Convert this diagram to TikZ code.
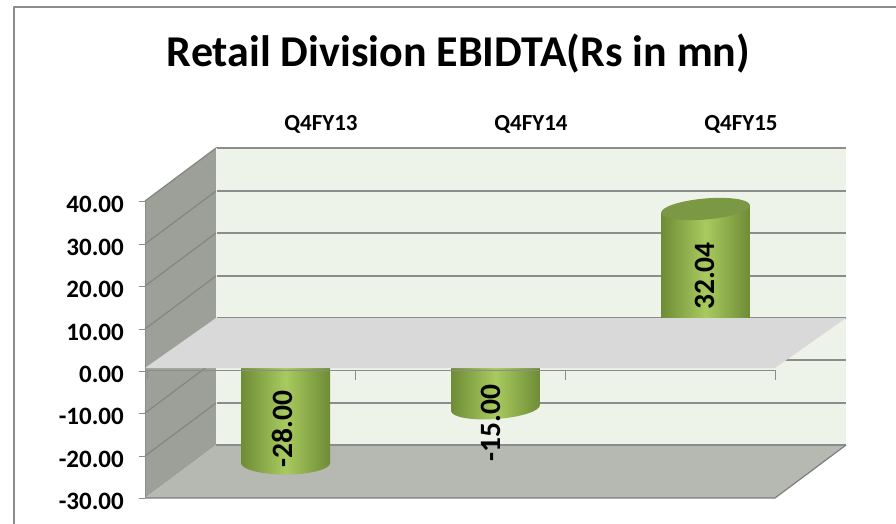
\documentclass[tikz,border=0pt]{standalone}
\usepackage{fontspec}
\setmainfont{Carlito}
\usepackage{tikz}

\definecolor{framegray}{HTML}{8C8C8C}
\definecolor{gridgray}{HTML}{8C8C8C}
\definecolor{wallgreen}{HTML}{EEF3E9}
\definecolor{sidegray}{HTML}{9D9F99}
\definecolor{sideline}{HTML}{84867F}
\definecolor{floorgray}{HTML}{B6B8B2}
\definecolor{slabgray}{HTML}{D9D9D9}
\definecolor{cylDark}{HTML}{6E8C36}
\definecolor{cylLight}{HTML}{A9CA5F}
\definecolor{cylTop}{HTML}{7B9944}

\begin{document}
\begin{tikzpicture}[x=1pt, y=-1pt, line join=bevel]
	\useasboundingbox (0,0) rectangle (896,524);

	\tikzstyle{gridline} = [draw=gridgray, line width=1.4pt];
	\tikzstyle{sidegrid} = [draw=sideline, line width=1.2pt];
	\tikzstyle{tick} = [draw=gridgray, line width=1pt];
	\tikzstyle{cylbody} = [left color=cylDark, right color=cylDark, middle color=cylLight];
	\tikzstyle{axislabel} = [anchor=base east, inner sep=0pt, font=\fontsize{25}{28}\selectfont\bfseries];
	\tikzstyle{catlabel} = [anchor=base, inner sep=0pt, font=\fontsize{23}{26}\selectfont\bfseries];
	\tikzstyle{barlabel} = [rotate=90, inner sep=0pt, font=\fontsize{29.5}{32}\selectfont\bfseries];

	% outer frame
	\draw[draw=framegray, line width=2pt] (14,524) -- (14,7) -- (896,7);

	% back wall and its grid
	\fill[wallgreen] (216,148) rectangle (846,445);
	\draw[gridline] (216,148) -- (846,148);
	\draw[gridline] (216,191) -- (846,191);
	\draw[gridline] (216,233) -- (846,233);
	\draw[gridline] (216,276) -- (846,276);
	\draw[gridline] (216,318) -- (846,318);
	\draw[gridline] (216,360) -- (846,360);
	\draw[gridline] (216,403) -- (846,403);

	% side wall
	\fill[sidegray] (145,201) -- (216,148) -- (216,445) -- (145,498) -- cycle;
	\draw[sidegrid] (145,201) -- (216,148);
	\draw[sidegrid] (145,244) -- (216,191);
	\draw[sidegrid] (145,286) -- (216,233);
	\draw[sidegrid] (145,329) -- (216,276);
	\draw[sidegrid] (145,413) -- (216,360);
	\draw[sidegrid] (145,456) -- (216,403);
	\draw[draw=white!85!sidegray, line width=1pt] (216,148) -- (216,445);

	% floor at -30
	\fill[floorgray] (145,498) -- (775,498) -- (846,445) -- (216,445) -- cycle;
	\draw[draw=gridgray, line width=1.2pt] (216,445) -- (846,445);
	\draw[draw=gridgray!90!black, line width=1.2pt] (145,498) -- (775,498) -- (846,445);

	% cylinders below zero
	\shade[cylbody] (241,340) -- (241,463) -- (330,463) -- (330,340) -- cycle;
	\shade[cylbody] (285.5,463) ellipse [x radius=44.5, y radius=11.5];
	\shade[cylbody] (451.1,340) -- (451.1,411.1) -- (539.9,404.9) -- (539.9,340) -- cycle;
	\shade[cylbody, rotate around={4:(495.5,408)}] (495.5,408) ellipse [x radius=44.5, y radius=11];

	% cylinder above zero
	\shade[cylbody] (661.2,212.9) -- (749.8,205.1) -- (749.8,345) -- (661.2,345) -- cycle;
	\fill[cylTop, rotate around={5:(705.5,209)}] (705.5,209) ellipse [x radius=44.5, y radius=10.5];

	% zero plane
	\fill[slabgray] (145,368) -- (775,368) -- (846,318) -- (216,318) -- cycle;
	\draw[draw=gridgray, line width=1pt] (145,370.5) -- (775,370.5);
	\draw[tick] (147,370) -- (147,379);
	\draw[tick] (355,370) -- (355,380);
	\draw[tick] (565,370) -- (565,380);
	\draw[tick] (775,370) -- (775,380);

	% value axis
	\draw[draw=gridgray, line width=1pt] (145,201) -- (145,498);
	\draw[tick] (139,201) -- (145,201);
	\draw[tick] (139,244) -- (145,244);
	\draw[tick] (139,286) -- (145,286);
	\draw[tick] (139,329) -- (145,329);
	\draw[tick] (139,371) -- (145,371);
	\draw[tick] (139,413) -- (145,413);
	\draw[tick] (139,456) -- (145,456);
	\draw[tick] (139,498) -- (145,498);

	\node[axislabel] at (124,212) (ylab40) {40.00};
	\node[axislabel] at (124,255) (ylab30) {30.00};
	\node[axislabel] at (124,297) (ylab20) {20.00};
	\node[axislabel] at (124,340) (ylab10) {10.00};
	\node[axislabel] at (124,382) (ylab0) {0.00};
	\node[axislabel] at (124,424) (ylabm10) {-10.00};
	\node[axislabel] at (124,467) (ylabm20) {-20.00};
	\node[axislabel] at (124,509) (ylabm30) {-30.00};

	% title and categories
	\node[anchor=base, inner sep=0pt, font=\fontsize{44}{48}\selectfont\bfseries] at (458.5,67) (title) {Retail Division EBIDTA(Rs in mn)};
	\node[catlabel] at (321,130) (q4fy13) {Q4FY13};
	\node[catlabel] at (531,130) (q4fy14) {Q4FY14};
	\node[catlabel] at (741,130) (q4fy15) {Q4FY15};

	% data labels
	\node[barlabel] at (282,429) (val13) {-28.00};
	\node[barlabel] at (491,423) (val14) {-15.00};
	\node[barlabel] at (705,276) (val15) {32.04};
\end{tikzpicture}
\end{document}
